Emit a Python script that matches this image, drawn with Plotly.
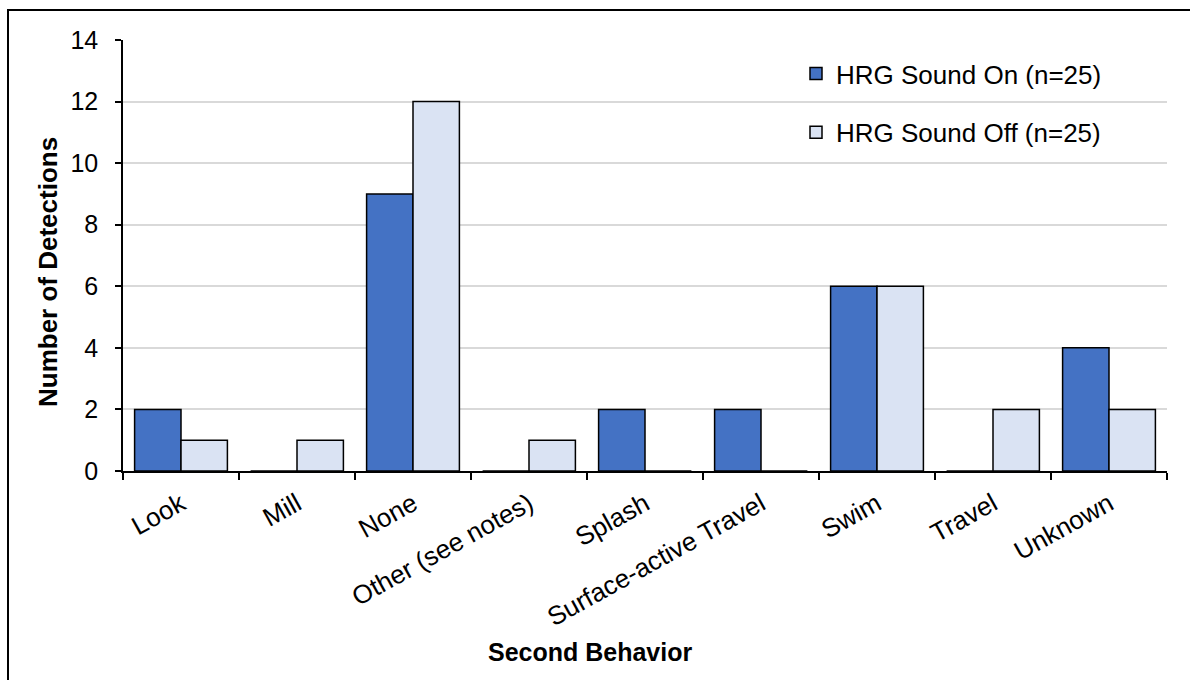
import plotly.graph_objects as go

# Second-behavior counts by HRG sound condition
behaviors = ["Look", "Mill", "None", "Other (see notes)", "Splash",
             "Surface-active Travel", "Swim", "Travel", "Unknown"]
sound_on = [2, 0, 9, 0, 2, 2, 6, 0, 4]
sound_off = [1, 1, 12, 1, 0, 0, 6, 2, 2]
y_ticks = [0, 2, 4, 6, 8, 10, 12, 14]

FONT = "Liberation Sans, Arial, sans-serif"

fig = go.Figure()
fig.add_trace(go.Bar(
    x=behaviors, y=sound_on, name="HRG Sound On (n=25)",
    marker=dict(color="#4472C4", line=dict(color="black", width=1.5)),
    legendgroup="on",
))
fig.add_trace(go.Bar(
    x=behaviors, y=sound_off, name="HRG Sound Off (n=25)",
    marker=dict(color="#DAE3F3", line=dict(color="black", width=1.5)),
    legendgroup="off",
))

# plot-area placement in pixels
L, R, T, B = 123, 23, 40, 209
pw, ph = 1190 - L - R, 680 - T - B
base = 680 - B


def px_x(x):
    return (x - L) / pw


def px_y(y):
    return (base - y) / ph


# outer frame around the chart
fig.add_shape(type="rect", xref="paper", yref="paper",
              x0=px_x(8), x1=px_x(1200), y0=px_y(700), y1=px_y(10),
              line=dict(color="black", width=2), fillcolor="rgba(0,0,0,0)",
              layer="below")

# axis titles
fig.add_annotation(text="<b>Number of Detections</b>", xref="paper", yref="paper",
                   x=px_x(48), y=px_y(272), textangle=-90, showarrow=False,
                   font=dict(size=26, family=FONT, color="black"),
                   xanchor="center", yanchor="middle")
fig.add_annotation(text="<b>Second Behavior</b>", xref="paper", yref="paper",
                   x=px_x(590), y=px_y(652), showarrow=False,
                   font=dict(size=25, family=FONT, color="black"),
                   xanchor="center", yanchor="middle")

fig.update_layout(
    width=1190, height=680,
    margin=dict(l=L, r=R, t=T, b=B),
    paper_bgcolor="white", plot_bgcolor="white",
    barmode="group", bargap=0.2, bargroupgap=0,
    font=dict(family=FONT, color="black"),
    showlegend=True,
    legend=dict(x=px_x(796), y=px_y(50), xanchor="left", yanchor="top",
                font=dict(size=26, family=FONT), tracegroupgap=22,
                traceorder="grouped", bgcolor="rgba(0,0,0,0)"),
    xaxis=dict(
        tickangle=-29, tickfont=dict(size=26), tickson="boundaries",
        ticks="outside", ticklen=7, tickcolor="black", tickwidth=1.5,
        ticklabelstandoff=6,
        showline=True, linecolor="black", linewidth=1.5,
    ),
    yaxis=dict(
        range=[0, 14], tickvals=y_ticks, tickfont=dict(size=25),
        ticks="outside", ticklen=6, tickcolor="black", tickwidth=1.5,
        ticklabelstandoff=12,
        showline=True, linecolor="black", linewidth=1.5,
        showgrid=True, gridcolor="#d9d9d9", gridwidth=1.5,
        zeroline=False,
    ),
)

fig.write_html("out.html")
